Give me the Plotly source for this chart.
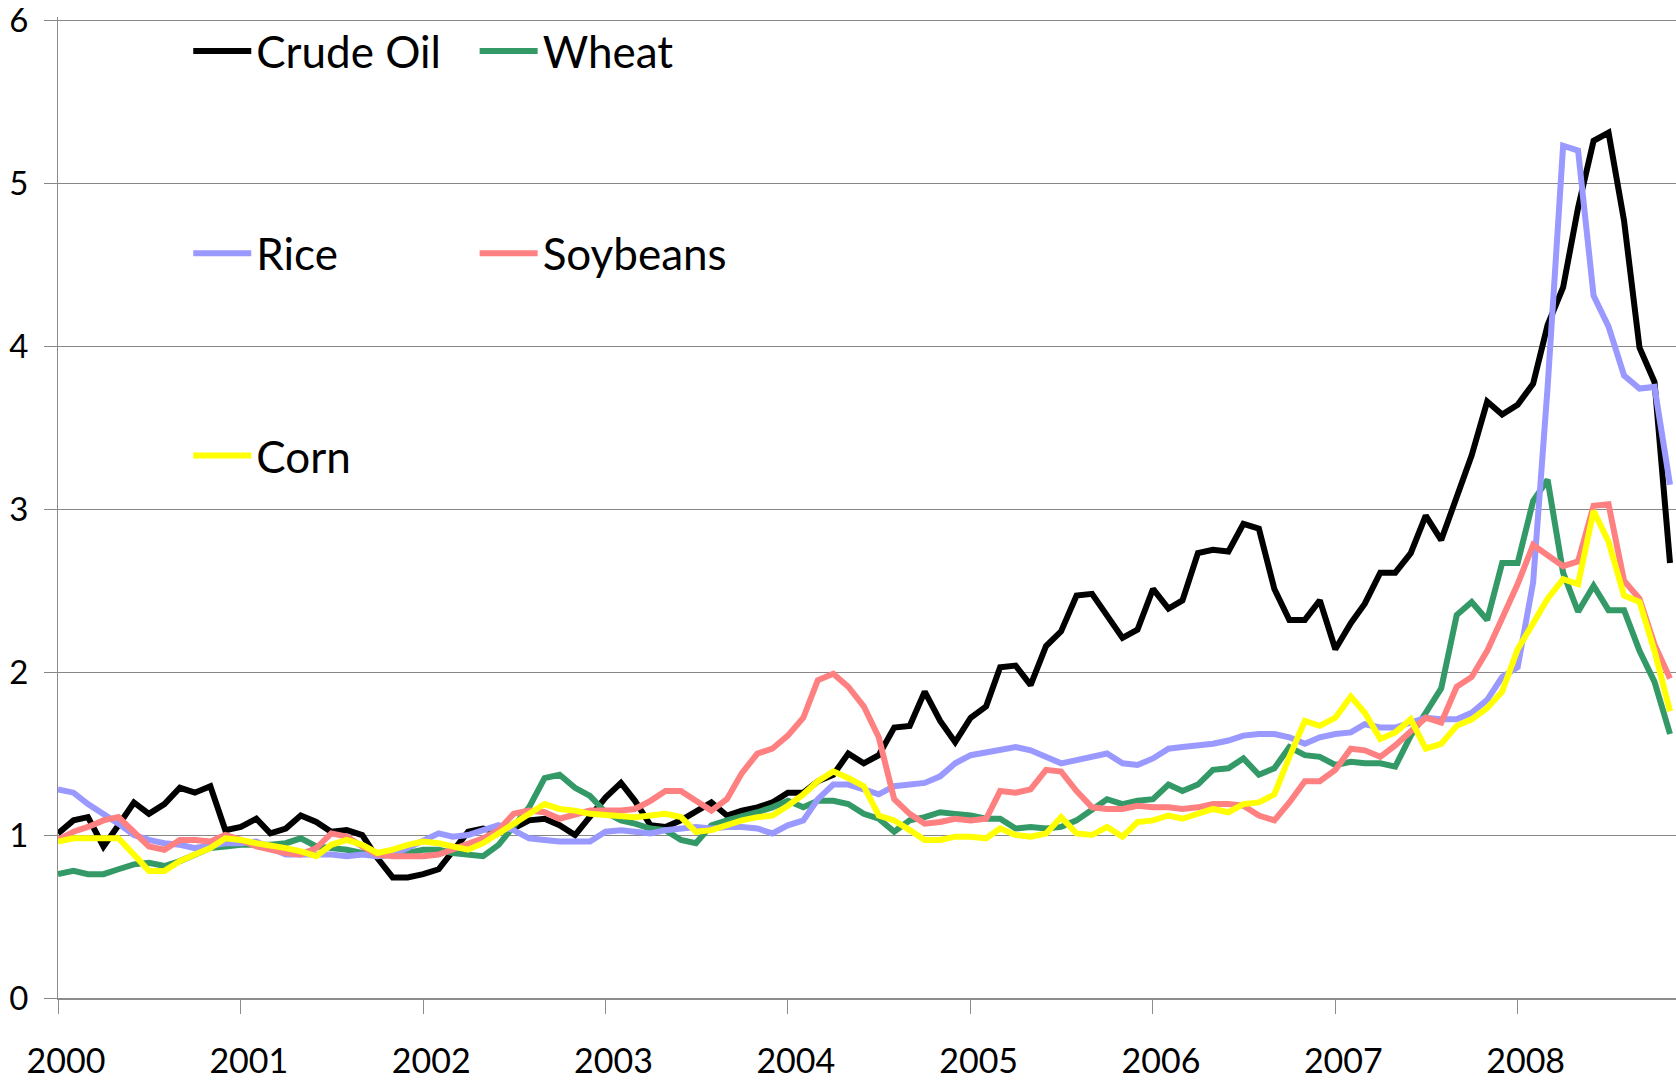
import pandas as pd
import plotly.graph_objects as go

months = pd.date_range("2000-01-01", periods=107, freq="MS")

crude_oil = [1.01, 1.09, 1.11, 0.93, 1.06, 1.20, 1.13, 1.19, 1.29, 1.26, 1.30, 1.03,
             1.05, 1.10, 1.01, 1.04, 1.12, 1.08, 1.02, 1.03, 1.00, 0.86, 0.74, 0.74,
             0.76, 0.79, 0.90, 1.02, 1.04, 1.02, 1.04, 1.09, 1.10, 1.06, 1.00, 1.12,
             1.23, 1.32, 1.21, 1.06, 1.05, 1.09, 1.14, 1.20, 1.12, 1.15, 1.17, 1.20,
             1.26, 1.26, 1.33, 1.37, 1.50, 1.44, 1.49, 1.66, 1.67, 1.88, 1.70, 1.57,
             1.72, 1.79, 2.03, 2.04, 1.92, 2.16, 2.25, 2.47, 2.48, 2.35, 2.21, 2.26,
             2.51, 2.39, 2.44, 2.73, 2.75, 2.74, 2.91, 2.88, 2.51, 2.32, 2.32, 2.44,
             2.14, 2.30, 2.42, 2.61, 2.61, 2.73, 2.96, 2.81, 3.08, 3.33, 3.66, 3.58,
             3.64, 3.77, 4.13, 4.36, 4.85, 5.26, 5.31, 4.77, 3.99, 3.78, 2.67]

wheat = [0.76, 0.78, 0.76, 0.76, 0.79, 0.82, 0.83, 0.81, 0.84, 0.88, 0.92, 0.93,
         0.94, 0.94, 0.94, 0.95, 0.98, 0.93, 0.92, 0.91, 0.89, 0.87, 0.88, 0.89,
         0.91, 0.91, 0.89, 0.88, 0.87, 0.94, 1.05, 1.17, 1.35, 1.37, 1.29, 1.24,
         1.14, 1.09, 1.07, 1.04, 1.03, 0.97, 0.95, 1.06, 1.09, 1.11, 1.14, 1.17,
         1.21, 1.17, 1.21, 1.21, 1.19, 1.13, 1.10, 1.02, 1.09, 1.11, 1.14, 1.13,
         1.12, 1.10, 1.10, 1.04, 1.05, 1.04, 1.05, 1.09, 1.16, 1.22, 1.19, 1.21,
         1.22, 1.31, 1.27, 1.31, 1.40, 1.41, 1.47, 1.37, 1.41, 1.54, 1.49, 1.48,
         1.43, 1.45, 1.44, 1.44, 1.42, 1.61, 1.75, 1.90, 2.35, 2.43, 2.32, 2.67,
         2.67, 3.05, 3.18, 2.61, 2.37, 2.53, 2.38, 2.38, 2.13, 1.94, 1.62]

rice = [1.28, 1.26, 1.19, 1.13, 1.07, 1.00, 0.97, 0.95, 0.94, 0.92, 0.94, 0.95,
        0.95, 0.96, 0.92, 0.88, 0.88, 0.88, 0.88, 0.87, 0.88, 0.87, 0.88, 0.92,
        0.97, 1.01, 0.99, 1.00, 1.03, 1.06, 1.03, 0.98, 0.97, 0.96, 0.96, 0.96,
        1.02, 1.03, 1.02, 1.01, 1.03, 1.04, 1.05, 1.04, 1.05, 1.05, 1.04, 1.01,
        1.06, 1.09, 1.22, 1.31, 1.31, 1.28, 1.25, 1.30, 1.31, 1.32, 1.36, 1.44,
        1.49, 1.51, 1.52, 1.54, 1.52, 1.48, 1.44, 1.46, 1.48, 1.50, 1.44, 1.43,
        1.47, 1.53, 1.54, 1.55, 1.56, 1.58, 1.61, 1.62, 1.62, 1.60, 1.56, 1.60,
        1.62, 1.63, 1.68, 1.66, 1.66, 1.69, 1.72, 1.71, 1.71, 1.75, 1.83, 1.97,
        2.03, 2.55, 3.75, 5.23, 5.20, 4.31, 4.12, 3.82, 3.74, 3.75, 3.15]

soybeans = [0.97, 1.02, 1.05, 1.09, 1.11, 1.02, 0.93, 0.91, 0.97, 0.97, 0.96, 1.00,
            0.97, 0.93, 0.91, 0.89, 0.88, 0.92, 1.01, 0.99, 0.93, 0.88, 0.87, 0.87,
            0.87, 0.88, 0.91, 0.94, 0.98, 1.03, 1.13, 1.15, 1.14, 1.10, 1.13, 1.15,
            1.15, 1.15, 1.16, 1.21, 1.27, 1.27, 1.21, 1.15, 1.22, 1.38, 1.50, 1.53,
            1.61, 1.72, 1.95, 1.99, 1.91, 1.79, 1.60, 1.22, 1.13, 1.07, 1.08, 1.10,
            1.09, 1.10, 1.27, 1.26, 1.28, 1.40, 1.39, 1.27, 1.17, 1.16, 1.16, 1.18,
            1.17, 1.17, 1.16, 1.17, 1.19, 1.19, 1.18, 1.12, 1.09, 1.20, 1.33, 1.33,
            1.40, 1.53, 1.52, 1.48, 1.55, 1.64, 1.72, 1.69, 1.91, 1.97, 2.13, 2.33,
            2.54, 2.78, 2.72, 2.65, 2.68, 3.02, 3.03, 2.56, 2.45, 2.17, 1.96]

corn = [0.96, 0.98, 0.98, 0.98, 0.98, 0.88, 0.78, 0.78, 0.84, 0.88, 0.92, 0.98,
        0.97, 0.95, 0.94, 0.92, 0.90, 0.87, 0.94, 0.97, 0.94, 0.89, 0.91, 0.94,
        0.96, 0.95, 0.93, 0.91, 0.95, 1.01, 1.07, 1.13, 1.19, 1.16, 1.15, 1.13,
        1.12, 1.11, 1.11, 1.12, 1.13, 1.11, 1.02, 1.03, 1.06, 1.09, 1.11, 1.12,
        1.18, 1.25, 1.33, 1.39, 1.35, 1.30, 1.12, 1.09, 1.03, 0.97, 0.97, 0.99,
        0.99, 0.98, 1.04, 1.00, 0.99, 1.01, 1.11, 1.01, 1.00, 1.05, 0.99, 1.08,
        1.09, 1.12, 1.10, 1.13, 1.16, 1.14, 1.19, 1.20, 1.25, 1.48, 1.70, 1.67,
        1.72, 1.85, 1.75, 1.59, 1.63, 1.71, 1.53, 1.56, 1.67, 1.71, 1.78, 1.88,
        2.14, 2.30, 2.45, 2.57, 2.54, 2.99, 2.80, 2.47, 2.43, 2.13, 1.76]

year_ticks = pd.date_range("2000-01-01", "2008-01-01", freq="YS")
year_labels = [str(d.year) for d in year_ticks]
y_ticks = [0, 1, 2, 3, 4, 5, 6]

FONT = "Lato, 'Open Sans', sans-serif"
GRID = "#878787"

series = [
    ("Crude Oil", crude_oil, "#000000", "legend"),
    ("Wheat", wheat, "#339966", "legend2"),
    ("Rice", rice, "#9999FF", "legend"),
    ("Soybeans", soybeans, "#FF8080", "legend2"),
    ("Corn", corn, "#FFFF00", "legend"),
]

fig = go.Figure()
for name, vals, color, leg in series:
    fig.add_trace(go.Scatter(
        x=months, y=vals, mode="lines", name=name,
        line=dict(color=color, width=6),
        legend=leg, legendgroup=name,
    ))

legend_common = dict(
    bgcolor="rgba(0,0,0,0)", borderwidth=0,
    font=dict(family=FONT, size=44, color="#000000"),
    traceorder="grouped", tracegroupgap=142,
    itemwidth=58, xanchor="left", yanchor="top",
)

fig.update_layout(
    width=1676, height=1081,
    margin=dict(l=58, r=0, t=17, b=83, autoexpand=False),
    paper_bgcolor="white", plot_bgcolor="white",
    font=dict(family=FONT, color="#000000"),
    showlegend=True,
    legend=dict(x=0.0805, y=1.001, **legend_common),
    legend2=dict(x=0.2575, y=1.001, **legend_common),
    xaxis=dict(
        type="date", range=["2000-01-01", "2008-11-13"], automargin=False,
        tickmode="array", tickvals=year_ticks, ticktext=year_labels,
        ticks="outside", ticklen=14, tickwidth=1, tickcolor="#8c8c8c",
        showline=True, linecolor="#8c8c8c", linewidth=2,
        showgrid=False, zeroline=False,
        tickfont=dict(family=FONT, size=34, color="#000000"),
        ticklabelstandoff=18, ticklabelshift=8, ticklabeloverflow="allow",
    ),
    yaxis=dict(
        range=[0, 6.02], automargin=False,
        tickmode="array", tickvals=y_ticks,
        ticktext=[str(v) for v in y_ticks],
        showgrid=True, gridcolor=GRID, gridwidth=1, zeroline=False,
        showline=True, linecolor="#8c8c8c", linewidth=1,
        ticks="outside", ticklen=13, tickwidth=1, tickcolor=GRID,
        tickfont=dict(family=FONT, size=33, color="#000000"),
        ticklabelstandoff=9, ticklabeloverflow="allow",
    ),
    shapes=[dict(
        type="rect", xref="paper", yref="paper",
        x0=0.0698, x1=0.4246, y0=0.49, y1=1.03,
        fillcolor="white", line=dict(width=0), layer="between",
    )],
)

fig.write_html("out.html", config={"displayModeBar": False},
               post_script="document.body.style.margin='0px';")
